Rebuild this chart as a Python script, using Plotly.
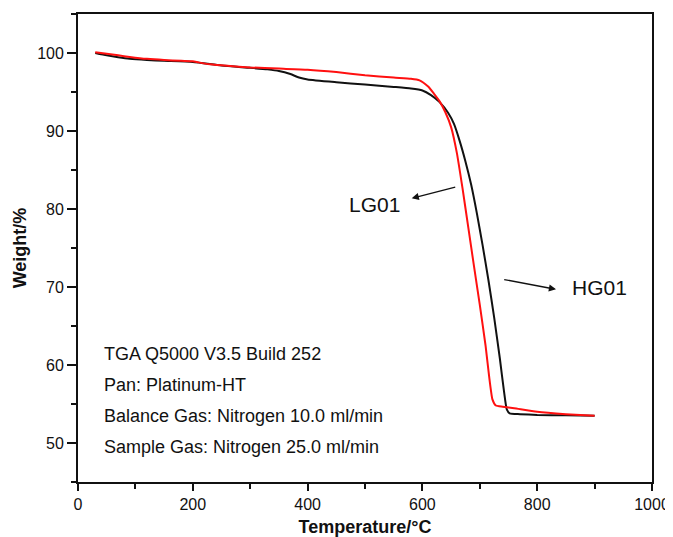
import plotly.graph_objects as go

# Temperature (°C) and weight (%)
temp_lg01 = [30, 50, 70, 90, 120, 150, 180, 200, 210, 230, 260, 300, 350, 400, 450, 500, 550,
             580, 595, 610, 620, 630, 640, 650, 660, 670, 680, 690, 700, 710, 716, 722, 728,
             740, 760, 800, 850, 900]
weight_lg01 = [100.1, 99.9, 99.7, 99.5, 99.25, 99.1, 99.0, 98.95, 98.8, 98.55, 98.35, 98.15,
               98.0, 97.85, 97.55, 97.15, 96.85, 96.7, 96.5, 95.7, 94.8, 93.8, 92.4, 90.5,
               87.2, 82.6, 77.6, 72.6, 67.7, 62.5, 58.7, 55.6, 54.8, 54.65, 54.45, 54.0,
               53.7, 53.5]

temp_hg01 = [30, 50, 70, 90, 120, 150, 200, 250, 300, 330, 350, 370, 385, 400, 450, 500, 550,
             580, 600, 615, 630, 645, 655, 665, 675, 685, 695, 705, 715, 725, 735, 742, 747,
             752, 770, 800, 850, 900]
weight_hg01 = [100.0, 99.7, 99.45, 99.25, 99.1, 99.0, 98.85, 98.4, 98.1, 97.9, 97.7, 97.3,
               96.85, 96.6, 96.25, 95.95, 95.65, 95.45, 95.2, 94.6, 93.7, 92.3, 90.9, 88.7,
               86.1, 83.1, 79.4, 75.3, 70.9, 66.1, 60.8, 56.7, 54.3, 53.8, 53.7, 53.6,
               53.55, 53.5]

info_lines = ["TGA Q5000 V3.5 Build 252", "Pan: Platinum-HT",
              "Balance Gas: Nitrogen 10.0 ml/min", "Sample Gas: Nitrogen 25.0 ml/min"]
info_y = [61.4, 57.4, 53.45, 49.5]

x_ticks = [0, 200, 400, 600, 800, 1000]
y_ticks = [50, 60, 70, 80, 90, 100]

FONT = "Liberation Sans, Arial, sans-serif"

fig = go.Figure()
fig.add_trace(go.Scatter(x=temp_hg01, y=weight_hg01, mode="lines", name="HG01",
                         line=dict(color="#111111", width=2, shape="spline", smoothing=0.5)))
fig.add_trace(go.Scatter(x=temp_lg01, y=weight_lg01, mode="lines", name="LG01",
                         line=dict(color="#ff1010", width=2, shape="spline", smoothing=0.5)))

annotations = []
# curve labels with arrows
annotations.append(dict(x=581.4, y=81.37, ax=659.8, ay=82.86, xref="x", yref="y", axref="x", ayref="y",
                        text="", showarrow=True, arrowhead=2, arrowsize=1.1, arrowwidth=1.3,
                        arrowcolor="#111"))
annotations.append(dict(x=516, y=80.55, xref="x", yref="y", text="LG01", showarrow=False,
                        font=dict(size=21, color="#111", family=FONT)))
annotations.append(dict(x=832.8, y=69.7, ax=739.9, ay=70.99, xref="x", yref="y", axref="x", ayref="y",
                        text="", showarrow=True, arrowhead=2, arrowsize=1.1, arrowwidth=1.3,
                        arrowcolor="#111"))
annotations.append(dict(x=908.5, y=69.9, xref="x", yref="y", text="HG01", showarrow=False,
                        font=dict(size=21, color="#111", family=FONT)))
for txt, yy in zip(info_lines, info_y):
    annotations.append(dict(x=41.8, y=yy, xref="x", yref="y", text=txt, showarrow=False,
                            xanchor="left", yanchor="middle",
                            font=dict(size=18, color="#111", family=FONT)))

# the page body adds an 8px margin, so the figure is 8px smaller on each axis
fig.update_layout(
    width=665, height=529,
    margin=dict(l=70, r=21, t=6, b=55),
    paper_bgcolor="white", plot_bgcolor="white",
    showlegend=False,
    font=dict(family=FONT, color="#111", size=16),
    annotations=annotations,
)
fig.update_xaxes(
    range=[0, 1000], tickvals=x_ticks, ticktext=[str(v) for v in x_ticks],
    ticks="outside", ticklen=7, tickwidth=1.6, tickcolor="#111",
    minor=dict(dtick=100, tick0=0, ticks="outside", ticklen=5, tickwidth=1.6, tickcolor="#111"),
    showline=True, linecolor="#111", linewidth=1.8, mirror=True,
    showgrid=False, zeroline=False, automargin=False,
    tickfont=dict(size=16, family=FONT, color="#111"),
    title=dict(text="<b>Temperature/°C</b>", font=dict(size=18, family=FONT, color="#111"), standoff=14),
)
fig.update_yaxes(
    range=[45, 105], tickvals=y_ticks, ticktext=[str(v) for v in y_ticks],
    ticks="outside", ticklen=9, tickwidth=1.6, tickcolor="#111",
    minor=dict(dtick=5, tick0=45, ticks="outside", ticklen=5, tickwidth=1.6, tickcolor="#111"),
    showline=True, linecolor="#111", linewidth=1.8, mirror=True,
    showgrid=False, zeroline=False, automargin=False,
    tickfont=dict(size=16, family=FONT, color="#111"),
    title=dict(text="<b>Weight/%</b>", font=dict(size=18, family=FONT, color="#111"), standoff=6),
)

fig.write_html("out.html")
